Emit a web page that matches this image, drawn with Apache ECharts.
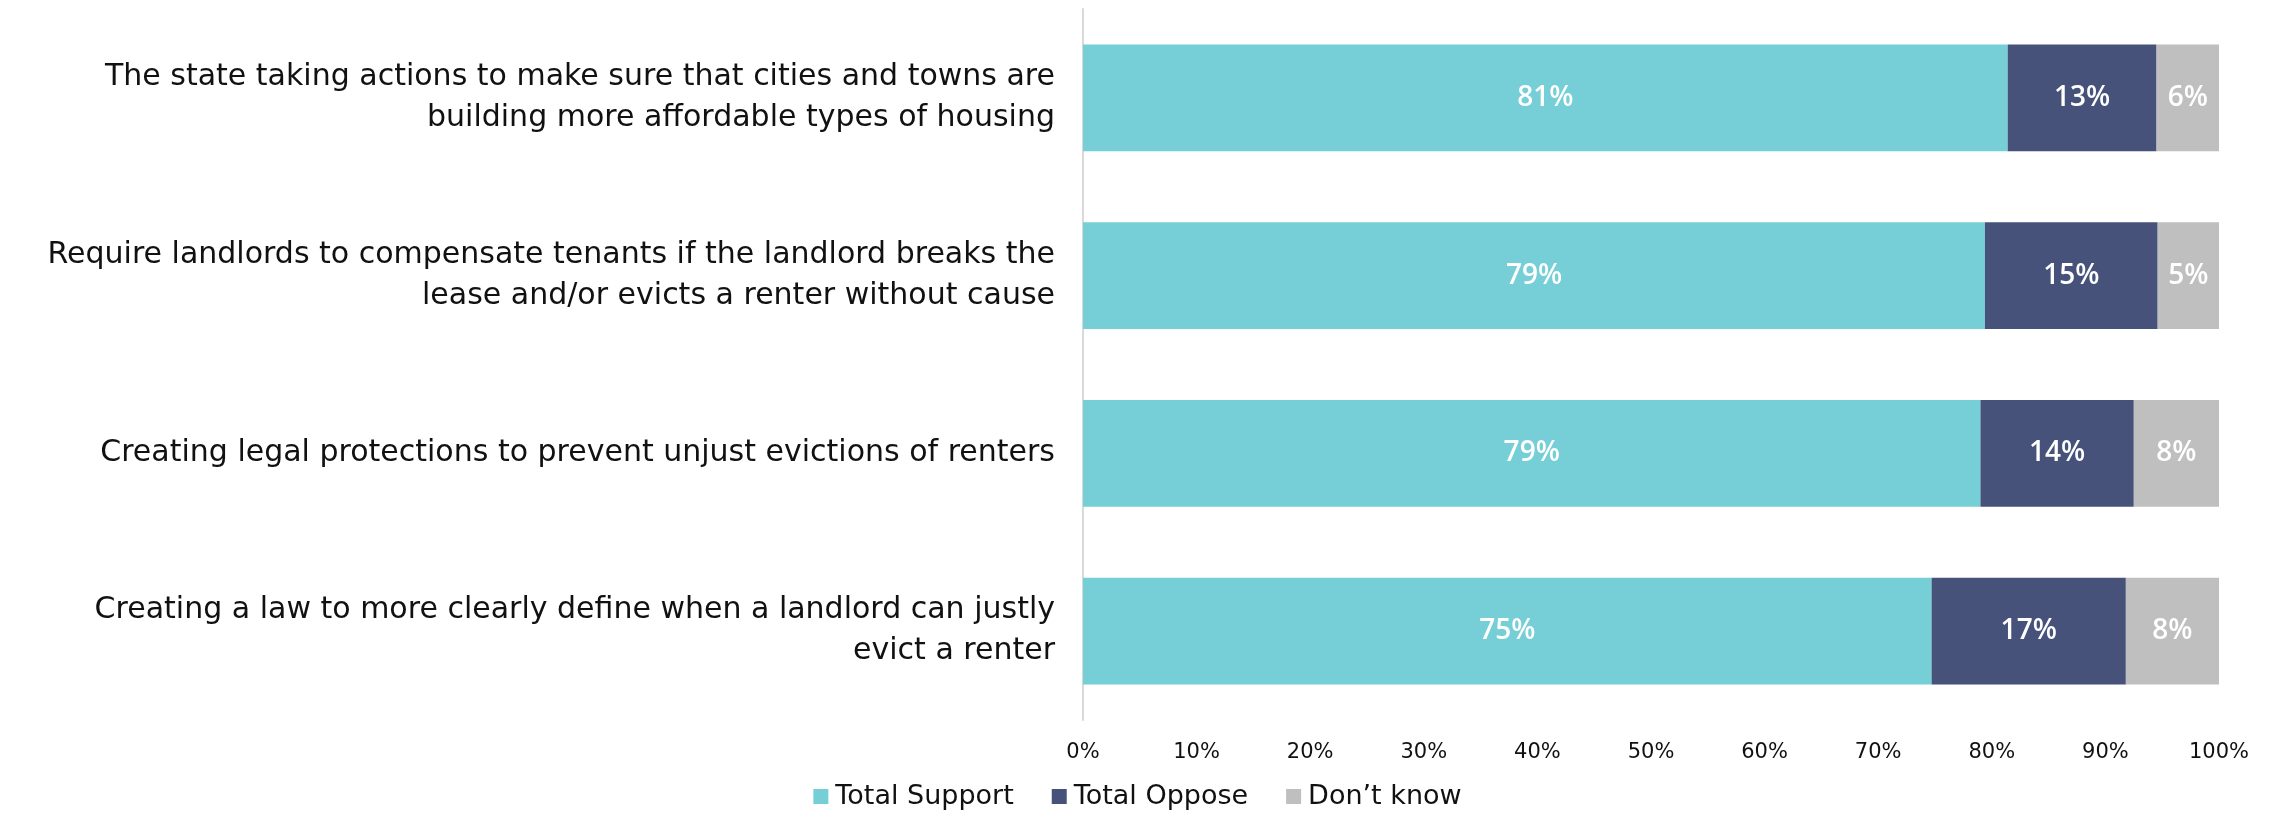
<!DOCTYPE html>
<html>
<head>
<meta charset="utf-8">
<script src="https://cdn.jsdelivr.net/npm/echarts@6/dist/echarts.min.js"></script>
<style>
  html, body { margin: 0; padding: 0; background: #fff; }
  #chart { width: 2275px; height: 817px; }
</style>
</head>
<body>
<div id="chart"></div>
<script>
const categories = [
  'The state taking actions to make sure that cities and towns are\nbuilding more affordable types of housing',
  'Require landlords to compensate tenants if the landlord breaks the\nlease and/or evicts a renter without cause',
  'Creating legal protections to prevent unjust evictions of renters',
  'Creating a law to more clearly define when a landlord can justly\nevict a renter'
]
const seriesNames = ['Total Support', 'Total Oppose', 'Don\u2019t know']
const support = [81.4, 79.4, 79.0, 74.7]
const oppose = [13.1, 15.2, 13.5, 17.1]
const dontKnow = [5.5, 5.4, 7.5, 8.2]
const colors = ['#76CED6', '#46527A', '#BFBFBF']

const chart = echarts.init(document.getElementById('chart'))

const labelStyle = {
  show: true,
  position: 'inside',
  color: '#fff',
  fontFamily: 'Open Sans',
  fontWeight: 600,
  fontSize: 28,
  formatter: p => Math.round(p.value) + '%'
}

const makeSeries = (name, data, color) => ({
  name,
  type: 'bar',
  stack: 'total',
  data,
  barCategoryGap: '40%',
  itemStyle: { color },
  label: labelStyle
})

chart.setOption({
  animation: false,
  grid: { left: 1083, right: 56, top: 9, bottom: 97 },
  legend: {
    bottom: 2,
    left: 'center',
    itemWidth: 15,
    itemHeight: 15,
    itemGap: 38,
    icon: 'rect',
    textStyle: { fontFamily: 'DejaVu Sans', fontSize: 27, color: '#111', padding: [0, 0, 0, 2] },
    data: seriesNames
  },
  xAxis: {
    type: 'value',
    min: 0,
    max: 100,
    interval: 10,
    axisLine: { show: false },
    axisTick: { show: false },
    splitLine: { show: false },
    axisLabel: {
      formatter: '{value}%',
      fontFamily: 'DejaVu Sans',
      fontSize: 21,
      color: '#111',
      margin: 22
    }
  },
  yAxis: {
    type: 'category',
    inverse: true,
    data: categories,
    axisLine: { show: true, lineStyle: { color: '#d9d9d9', width: 2 } },
    axisTick: { show: false },
    axisLabel: {
      fontFamily: 'DejaVu Sans',
      fontSize: 30,
      lineHeight: 41,
      color: '#111',
      align: 'right',
      margin: 28
    }
  },
  series: [
    makeSeries(seriesNames[0], support, colors[0]),
    makeSeries(seriesNames[1], oppose, colors[1]),
    makeSeries(seriesNames[2], dontKnow, colors[2])
  ]
})
</script>
</body>
</html>
